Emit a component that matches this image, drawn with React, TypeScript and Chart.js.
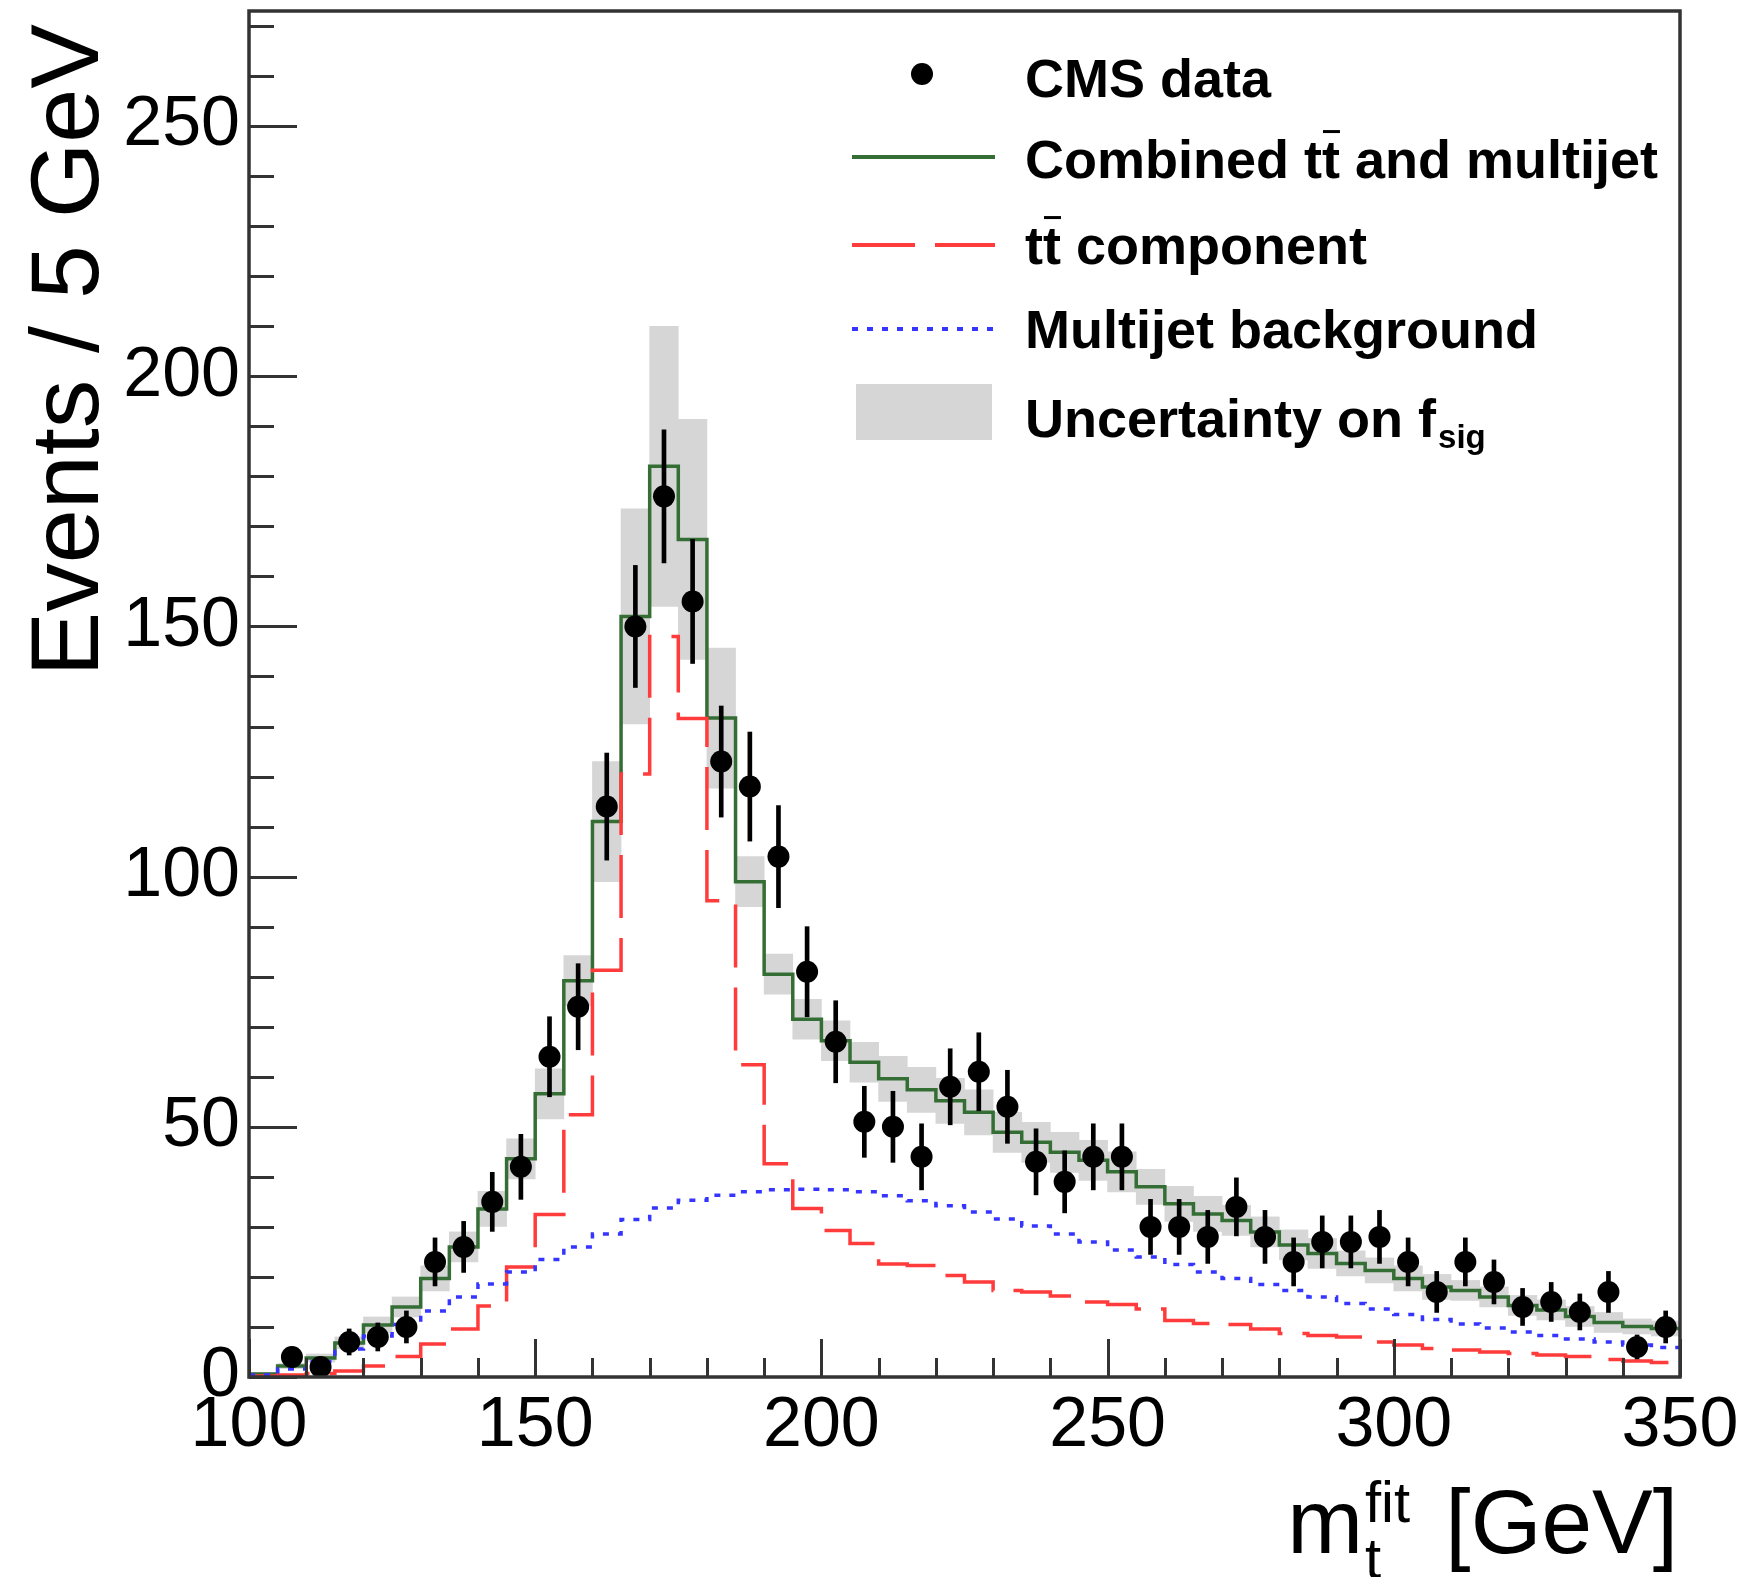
import React, { useEffect, useRef } from "react";
import { Chart, registerables } from "chart.js";

Chart.register(...registerables);

// ---------------- data ----------------
const binCenters = [
  102.5, 107.5, 112.5, 117.5, 122.5, 127.5, 132.5, 137.5, 142.5, 147.5,
  152.5, 157.5, 162.5, 167.5, 172.5, 177.5, 182.5, 187.5, 192.5, 197.5,
  202.5, 207.5, 212.5, 217.5, 222.5, 227.5, 232.5, 237.5, 242.5, 247.5,
  252.5, 257.5, 262.5, 267.5, 272.5, 277.5, 282.5, 287.5, 292.5, 297.5,
  302.5, 307.5, 312.5, 317.5, 322.5, 327.5, 332.5, 337.5, 342.5, 347.5,
];
const binWidth = 5;

const cmsData = [
  null, 4, 2, 7, 8, 10, 23, 26, 35, 42,
  64, 74, 114, 150, 176, 155, 123, 118, 104, 81,
  67, 51, 50, 44, 58, 61, 54, 43, 39, 44,
  44, 30, 30, 28, 34, 28, 23, 27, 27, 28,
  23, 17, 23, 19, 14, 15, 13, 17, 6, 10,
];
const cmsErrors = [
  null, 2.0, 1.4, 2.6, 2.8, 3.2, 4.8, 5.1, 5.9, 6.5,
  8.0, 8.6, 10.7, 12.2, 13.3, 12.4, 11.1, 10.9, 10.2, 9.0,
  8.2, 7.1, 7.1, 6.6, 7.6, 7.8, 7.3, 6.6, 6.2, 6.6,
  6.6, 5.5, 5.5, 5.3, 5.8, 5.3, 4.8, 5.2, 5.2, 5.3,
  4.8, 4.1, 4.8, 4.4, 3.7, 3.9, 3.6, 4.1, 2.4, 3.2,
];
const combined = [
  0.6, 2.2, 3.8, 6.8, 10.4, 14, 19.7, 26, 33.6, 43.6,
  56.6, 79.2, 111, 152, 182, 167.4, 131.7, 99, 80.5, 71.5,
  67.2, 62.9, 59.6, 57.4, 55.2, 52.9, 48.9, 46.9, 44.9, 43.3,
  41, 38, 34.6, 32.6, 31.3, 29, 26.4, 24.7, 22.7, 21.3,
  19.7, 18, 17.3, 16, 14.3, 13.4, 12.1, 10.9, 10.1, 9.7,
];
const ttbarComponent = [
  0.2, 0.4, 0.7, 1.2, 2.2, 4.1, 6.6, 9.6, 14.2, 22,
  32.5, 52.4, 81.3, 120.5, 148, 131.6, 95.2, 62.4, 42.6, 33.7,
  29.3, 26.7, 22.6, 22.3, 20.3, 19, 17.3, 17, 16.2, 15,
  14.5, 13.6, 11.3, 10.7, 10.5, 9.6, 8.7, 8.3, 8, 7,
  6.4, 5.7, 5.4, 5, 4.7, 4.4, 4.1, 3.5, 3.2, 2.9,
];
const multijet = [
  0.4, 1.6, 3.1, 5.6, 8.2, 10.5, 13.2, 16, 18.6, 21,
  23.5, 26, 28.6, 31.5, 33.8, 35.3, 36.3, 37, 37.4, 37.5,
  37.4, 37, 36.2, 35.2, 34.2, 33, 31.6, 30.2, 28.6, 27,
  25.4, 24, 22.5, 21, 19.7, 18.5, 17.3, 16, 14.7, 13.6,
  12.5, 11.5, 10.6, 9.8, 9, 8.3, 7.6, 7, 6.4, 5.9,
];
const fsigHalfWidth = [
  0.3, 0.5, 0.8, 1.2, 1.6, 2, 2.5, 3, 3.5, 4,
  5, 5, 12, 21.5, 28, 24, 14, 5, 4, 4,
  4, 4, 4.5, 4.5, 4.5, 4.5, 4, 4, 4, 4,
  4, 3.5, 3.5, 3.5, 3, 3, 3, 3, 2.5, 2.5,
  2.5, 2.5, 2, 2, 2, 2, 2, 2, 1.5, 1.5,
];

const xTickLabels = [100, 150, 200, 250, 300, 350];
const yTickLabels = [0, 50, 100, 150, 200, 250];
const X_MIN = 100;
const X_MAX = 350;
const Y_MIN = 0;
const Y_MAX = 273;
const X_MINOR_STEP = 10;
const Y_MINOR_STEP = 10;

const legendLabels = [
  "CMS data",
  "Combined tt\u0304 and multijet",
  "tt\u0304 component",
  "Multijet background",
  "Uncertainty on f_sig",
];

// ---------------- styles ----------------
const FONT = '"Liberation Sans", Arial, Helvetica, sans-serif';
const GREEN = "#356e35";
const RED = "#ff3b3b";
const BLUE = "#3535ff";
const BAND = "#d6d6d6";
const AXIS = "#333333";

function stepData(values: number[]) {
  const pts = binCenters.map((c, i) => ({ x: c - binWidth / 2, y: values[i] }));
  pts.push({
    x: binCenters[binCenters.length - 1] + binWidth / 2,
    y: values[values.length - 1],
  });
  return pts;
}

function drawTT(ctx: CanvasRenderingContext2D, x: number, baseline: number, size: number) {
  const wt = ctx.measureText("t").width;
  ctx.fillText("tt", x, baseline);
  ctx.save();
  ctx.strokeStyle = "#000";
  ctx.lineWidth = 3;
  ctx.beginPath();
  const by = baseline - size * 0.86;
  ctx.moveTo(x + wt + 1, by);
  ctx.lineTo(x + 2 * wt, by);
  ctx.stroke();
  ctx.restore();
  return 2 * wt;
}

function drawLabel(ctx: CanvasRenderingContext2D, label: string, x: number, baseline: number, size: number) {
  if (label.includes("_sig")) {
    const main = label.replace("_sig", "");
    ctx.fillText(main, x, baseline);
    const w = ctx.measureText(main).width;
    const f = ctx.font;
    ctx.font = `bold ${Math.round(size * 0.62)}px ${FONT}`;
    ctx.fillText("sig", x + w + 2, baseline + size * 0.2);
    ctx.font = f;
    return;
  }
  const parts = label.split("tt\u0304");
  let cx = x;
  parts.forEach((p, i) => {
    if (i > 0) cx += drawTT(ctx, cx, baseline, size);
    if (p) {
      ctx.fillText(p, cx, baseline);
      cx += ctx.measureText(p).width;
    }
  });
}

const decorPlugin = {
  id: "rootDecor",
  afterDatasetsDraw(chart: any) {
    const { ctx, chartArea: a, scales } = chart;
    const x = scales.x;
    const y = scales.y;
    ctx.save();
    ctx.strokeStyle = AXIS;
    ctx.lineWidth = 3;
    ctx.beginPath();
    for (let v = Y_MIN; v <= Y_MAX; v += Y_MINOR_STEP) {
      const py = Math.round(y.getPixelForValue(v)) + 0.5;
      const len = yTickLabels.includes(v) ? 48 : 25;
      ctx.moveTo(a.left, py);
      ctx.lineTo(a.left + len, py);
    }
    for (let v = X_MIN; v <= X_MAX; v += X_MINOR_STEP) {
      const px = Math.round(x.getPixelForValue(v)) + 0.5;
      const len = xTickLabels.includes(v) ? 38 : 19;
      ctx.moveTo(px, a.bottom);
      ctx.lineTo(px, a.bottom - len);
    }
    ctx.stroke();
    ctx.lineWidth = 3.5;
    ctx.strokeRect(a.left, a.top, a.right - a.left, a.bottom - a.top);
    ctx.restore();
  },
  afterDraw(chart: any) {
    const { ctx } = chart;
    ctx.save();
    ctx.fillStyle = "#000";
    ctx.textAlign = "left";
    ctx.textBaseline = "alphabetic";

    // y-axis title
    ctx.save();
    ctx.font = `97px ${FONT}`;
    ctx.translate(98, 24);
    ctx.rotate(-Math.PI / 2);
    ctx.textAlign = "right";
    ctx.fillText("Events / 5 GeV", 0, 0);
    ctx.restore();

    // x-axis title  m_t^fit [GeV]
    const fMain = `91px ${FONT}`;
    const fSmall = `58px ${FONT}`;
    ctx.font = fMain;
    const wm = ctx.measureText("m").width;
    const wg = ctx.measureText(" [GeV]").width;
    ctx.font = fSmall;
    const ws = Math.max(ctx.measureText("fit").width, ctx.measureText("t").width);
    const right = 1678;
    const start = right - wg - ws - wm - 12;
    const base = 1553;
    ctx.font = fMain;
    ctx.fillText("m", start, base);
    ctx.font = fSmall;
    ctx.fillText("fit", start + wm + 2, base - 31);
    ctx.fillText("t", start + wm + 2, base + 25);
    ctx.font = fMain;
    ctx.fillText(" [GeV]", start + wm + 12 + ws, base);

    // legend
    const size = 54;
    ctx.font = `bold ${size}px ${FONT}`;
    const textX = 1025;
    const baselines = [97, 178, 264, 348, 437];
    const centers = [74, 157, 245, 329, 412];
    const lx0 = 852;
    const lx1 = 995;
    ctx.beginPath();
    ctx.arc(922, centers[0], 11, 0, Math.PI * 2);
    ctx.fill();
    ctx.lineWidth = 4;
    ctx.strokeStyle = GREEN;
    ctx.beginPath();
    ctx.moveTo(lx0, centers[1]);
    ctx.lineTo(lx1, centers[1]);
    ctx.stroke();
    ctx.strokeStyle = RED;
    ctx.setLineDash([63, 20]);
    ctx.beginPath();
    ctx.moveTo(lx0, centers[2]);
    ctx.lineTo(lx1, centers[2]);
    ctx.stroke();
    ctx.strokeStyle = BLUE;
    ctx.setLineDash([6, 9]);
    ctx.beginPath();
    ctx.moveTo(lx0, centers[3]);
    ctx.lineTo(lx1, centers[3]);
    ctx.stroke();
    ctx.setLineDash([]);
    ctx.fillStyle = BAND;
    ctx.fillRect(856, 384, 136, 56);
    ctx.fillStyle = "#000";
    legendLabels.forEach((lab, i) => drawLabel(ctx, lab, textX, baselines[i], size));
    ctx.restore();
  },
};

export default function App() {
  const ref = useRef<HTMLCanvasElement>(null);

  useEffect(() => {
    const canvas = ref.current;
    if (!canvas) return;

    const points = binCenters
      .map((c, i) => (cmsData[i] == null ? null : { x: c, y: cmsData[i] as number }))
      .filter((p) => p !== null);
    const errBars = binCenters
      .map((c, i) =>
        cmsData[i] == null
          ? null
          : { x: c, y: [(cmsData[i] as number) - (cmsErrors[i] as number), (cmsData[i] as number) + (cmsErrors[i] as number)] }
      )
      .filter((p) => p !== null);
    const bandBars = binCenters.map((c, i) => ({
      x: c,
      y: [combined[i] - fsigHalfWidth[i], combined[i] + fsigHalfWidth[i]],
    }));

    const chart = new Chart(canvas, {
      type: "bar",
      data: {
        datasets: [
          {
            type: "line",
            label: legendLabels[0],
            data: points as any,
            showLine: false,
            pointRadius: 11,
            pointHoverRadius: 11,
            pointBackgroundColor: "#000",
            pointBorderWidth: 0,
            order: 0,
          },
          {
            type: "bar",
            label: "errors",
            data: errBars as any,
            backgroundColor: "#000",
            barThickness: 4,
            grouped: false,
            borderWidth: 0,
            order: 1,
          },
          {
            type: "line",
            label: legendLabels[3],
            data: stepData(multijet) as any,
            stepped: "before",
            borderColor: BLUE,
            borderWidth: 3.5,
            borderDash: [6, 9],
            pointRadius: 0,
            fill: false,
            order: 2,
          },
          {
            type: "line",
            label: legendLabels[2],
            data: stepData(ttbarComponent) as any,
            stepped: "before",
            borderColor: RED,
            borderWidth: 3.5,
            borderDash: [63, 20],
            pointRadius: 0,
            fill: false,
            order: 3,
          },
          {
            type: "line",
            label: legendLabels[1],
            data: stepData(combined) as any,
            stepped: "before",
            borderColor: GREEN,
            borderWidth: 3.5,
            pointRadius: 0,
            fill: false,
            order: 4,
          },
          {
            type: "bar",
            label: legendLabels[4],
            data: bandBars as any,
            backgroundColor: BAND,
            barPercentage: 1,
            categoryPercentage: 1,
            grouped: false,
            borderWidth: 0,
            order: 5,
          },
        ],
      },
      options: {
        responsive: false,
        animation: false,
        devicePixelRatio: 1,
        events: [],
        layout: { padding: { left: 0, right: 67, top: 11, bottom: 0 } },
        plugins: { legend: { display: false }, tooltip: { enabled: false } },
        scales: {
          x: {
            type: "linear",
            min: X_MIN,
            max: X_MAX,
            offset: false,
            grid: { display: false, drawTicks: false },
            border: { display: false },
            ticks: {
              color: "#000",
              font: { family: FONT, size: 70 },
              padding: 8,
              maxRotation: 0,
              autoSkip: false,
            },
            afterBuildTicks: (s: any) => {
              s.ticks = xTickLabels.map((v) => ({ value: v }));
            },
            afterFit: (s: any) => {
              s.height = 200;
              s.paddingLeft = 0;
              s.paddingRight = 0;
            },
          },
          y: {
            type: "linear",
            min: Y_MIN,
            max: Y_MAX,
            grid: { display: false, drawTicks: false },
            border: { display: false },
            ticks: {
              color: "#000",
              font: { family: FONT, size: 70 },
              padding: 9,
              autoSkip: false,
            },
            afterBuildTicks: (s: any) => {
              s.ticks = yTickLabels.map((v) => ({ value: v }));
            },
            afterFit: (s: any) => {
              s.width = 249;
              s.paddingTop = 0;
              s.paddingBottom = 0;
            },
          },
        },
      },
      plugins: [decorPlugin],
    } as any);

    return () => chart.destroy();
  }, []);

  return (
    <div style={{ position: "absolute", left: 0, top: 0, width: 1747, height: 1577, background: "#fff" }}>
      <canvas ref={ref} width={1747} height={1577} style={{ width: 1747, height: 1577, display: "block" }} />
    </div>
  );
}
